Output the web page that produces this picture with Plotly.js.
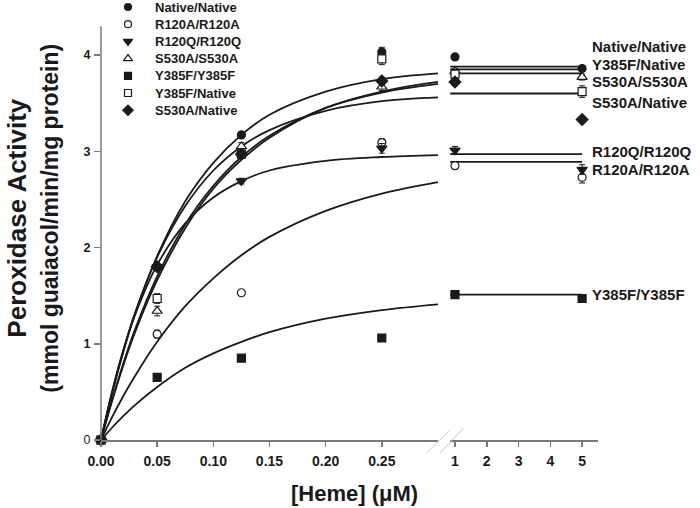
<!DOCTYPE html>
<html><head><meta charset="utf-8">
<script src="https://cdn.plot.ly/plotly-3.0.1.min.js"></script>
<style>body{margin:0;background:#fff}</style>
</head><body>
<div id="chart" style="width:700px;height:508px"></div>
<script>
// ---------------- data ----------------
const hemeLow = [0, 0.05, 0.125, 0.25];
const hemeHigh = [1, 5];
const plateauX = [0.85, 5];
const fitX = [0, 0.01, 0.02, 0.03, 0.05, 0.075, 0.1, 0.125, 0.15, 0.2, 0.25, 0.3];

const seriesNames = ['Native/Native', 'R120A/R120A', 'R120Q/R120Q', 'S530A/S530A', 'Y385F/Y385F', 'Y385F/Native', 'S530A/Native'];

// measured activities (low heme range)
const nativeNativeLow = [0, 1.80, 3.17, 4.03];
const r120aLow        = [0, 1.10, 1.53, 3.09];
const r120qLow        = [0, 1.80, 2.69, 3.03];
const s530aLow        = [0, 1.34, 3.05, 3.67];
const y385fLow        = [0, 0.65, 0.85, 1.06];
const y385fNativeLow  = [0, 1.47, 2.97, 3.96];
const s530aNativeLow  = [0, 1.80, 2.97, 3.73];

// measured activities (1 and 5 uM)
const nativeNativeHigh = [3.98, 3.86];
const r120aHigh        = [2.85, 2.73];
const r120qHigh        = [3.01, 2.81];
const s530aHigh        = [3.83, 3.77];
const y385fHigh        = [1.51, 1.47];
const y385fNativeHigh  = [3.80, 3.62];
const s530aNativeHigh  = [3.72, 3.33];

// error bars
const nativeNativeErrLow = [0, 0.03, 0.03, 0.05], nativeNativeErrHigh = [0.03, 0.03];
const r120aErrLow        = [0, 0.04, 0.02, 0.04], r120aErrHigh        = [0.03, 0.06];
const r120qErrLow        = [0, 0.03, 0.03, 0.05], r120qErrHigh        = [0.04, 0.05];
const s530aErrLow        = [0, 0.05, 0.04, 0.04], s530aErrHigh        = [0.03, 0.03];
const y385fErrLow        = [0, 0.03, 0.03, 0.03], y385fErrHigh        = [0.03, 0.03];
const y385fNativeErrLow  = [0, 0.05, 0.04, 0.06], y385fNativeErrHigh  = [0.05, 0.06];
const s530aNativeErrLow  = [0, 0.03, 0.03, 0.04], s530aNativeErrHigh  = [0.04, 0.03];

// fitted curves
const nativeNativeFit = [0, 0.49, 0.92, 1.30, 1.91, 2.48, 2.88, 3.17, 3.38, 3.62, 3.75, 3.81];
const r120aFit        = [0, 0.24, 0.46, 0.66, 1.02, 1.39, 1.68, 1.92, 2.11, 2.38, 2.56, 2.68];
const r120qFit        = [0, 0.51, 0.94, 1.29, 1.82, 2.25, 2.52, 2.69, 2.80, 2.90, 2.94, 2.96];
const s530aFit        = [0, 0.42, 0.80, 1.14, 1.70, 2.24, 2.64, 2.94, 3.16, 3.45, 3.61, 3.70];
const y385fFit        = [0, 0.13, 0.25, 0.36, 0.55, 0.75, 0.90, 1.02, 1.12, 1.26, 1.35, 1.41];
const y385fNativeFit  = [0, 0.41, 0.78, 1.11, 1.66, 2.20, 2.61, 2.91, 3.14, 3.45, 3.62, 3.72];
const s530aNativeFit  = [0, 0.50, 0.93, 1.31, 1.90, 2.43, 2.80, 3.05, 3.22, 3.42, 3.52, 3.56];

// plateau levels
const plateauLevels = [3.88, 2.89, 2.97, 3.81, 1.51, 3.85, 3.60];

// right-hand labels (order top to bottom) and their y positions
const rightLabels  = ['Native/Native', 'Y385F/Native', 'S530A/S530A', 'S530A/Native', 'R120Q/R120Q', 'R120A/R120A', 'Y385F/Y385F'];
const rightLabelY  = [4.09, 3.90, 3.72, 3.51, 3.00, 2.81, 1.51];

const lowTicks = [0, 0.05, 0.10, 0.15, 0.20, 0.25];
const lowTickText = ['0.00', '0.05', '0.10', '0.15', '0.20', '0.25'];
const highTicks = [1, 2, 3, 4, 5];
const highTickText = ['1', '2', '3', '4', '5'];
const yTicks = [0, 1, 2, 3, 4];
const yTickText = ['0', '<b>1</b>', '<b>2</b>', '<b>3</b>', '<b>4</b>'];

// ---------------- styling ----------------
const FONT = 'Liberation Sans, Arial, Helvetica, sans-serif';
const INK = '#1a1a1a';
const AX = '#7a7a7a';
const symbols = ['circle', 'circle', 'triangle-down', 'triangle-up', 'square', 'square', 'diamond'];
const filled  = [true, false, true, false, true, false, true];
const sizes   = [8, 8, 9, 9, 8, 8, 9];

const lowData  = [nativeNativeLow, r120aLow, r120qLow, s530aLow, y385fLow, y385fNativeLow, s530aNativeLow];
const highData = [nativeNativeHigh, r120aHigh, r120qHigh, s530aHigh, y385fHigh, y385fNativeHigh, s530aNativeHigh];
const lowErr   = [nativeNativeErrLow, r120aErrLow, r120qErrLow, s530aErrLow, y385fErrLow, y385fNativeErrLow, s530aNativeErrLow];
const highErr  = [nativeNativeErrHigh, r120aErrHigh, r120qErrHigh, s530aErrHigh, y385fErrHigh, y385fNativeErrHigh, s530aNativeErrHigh];
const fits     = [nativeNativeFit, r120aFit, r120qFit, s530aFit, y385fFit, y385fNativeFit, s530aNativeFit];

function markerStyle(i, sz) {
  return {symbol: symbols[i], size: sz || sizes[i], color: filled[i] ? INK : '#ffffff',
          line: {color: INK, width: 1.2}};
}

const traces = [];
// fitted curves
fits.forEach((f, i) => traces.push({
  x: fitX, y: f, xaxis: 'x', yaxis: 'y', mode: 'lines', type: 'scatter',
  line: {color: INK, width: 1.8, shape: 'spline', smoothing: 1}, showlegend: false, hoverinfo: 'skip'
}));
// plateau lines
plateauLevels.forEach((v, i) => traces.push({
  x: plateauX, y: [v, v], xaxis: 'x2', yaxis: 'y', mode: 'lines', type: 'scatter',
  line: {color: INK, width: 1.8}, showlegend: false, hoverinfo: 'skip'
}));
// data points
seriesNames.forEach((name, i) => {
  traces.push({
    x: hemeLow, y: lowData[i], xaxis: 'x', yaxis: 'y', mode: 'markers', type: 'scatter', name: name,
    marker: markerStyle(i), cliponaxis: false, showlegend: false,
    error_y: {type: 'data', array: lowErr[i], color: INK, thickness: 1, width: 3}
  });
  traces.push({
    x: hemeHigh, y: highData[i], xaxis: 'x2', yaxis: 'y', mode: 'markers', type: 'scatter', name: name,
    marker: markerStyle(i), cliponaxis: false, showlegend: false,
    error_y: {type: 'data', array: highErr[i], color: INK, thickness: 1, width: 3}
  });
});

// custom legend (overlay axes in pixel units)
const LEG_X = 128, LEG_TX = 153, LEG_Y0 = 7, LEG_DY = 17.2;
const annotations = [];
seriesNames.forEach((name, i) => {
  traces.push({
    x: [LEG_X], y: [LEG_Y0 + i * LEG_DY], xaxis: 'x3', yaxis: 'y3', mode: 'markers', type: 'scatter',
    marker: markerStyle(i, sizes[i] - 1), cliponaxis: false, showlegend: false, hoverinfo: 'skip'
  });
  annotations.push({
    xref: 'x3', yref: 'y3', x: LEG_TX, y: LEG_Y0 + i * LEG_DY, text: name, showarrow: false,
    xanchor: 'left', yanchor: 'middle', font: {family: FONT, size: 13, color: INK, weight: 'bold'}
  });
});

// right-hand labels
rightLabels.forEach((t, i) => annotations.push({
  xref: 'x2', yref: 'y', x: 5, y: rightLabelY[i], text: t, showarrow: false, xanchor: 'left', yanchor: 'middle',
  xshift: 9, borderpad: 0, font: {family: FONT, size: 15, color: INK, weight: 'bold'}
}));

// axis titles
annotations.push({xref: 'paper', yref: 'y', x: 0, y: 2.3, xshift: -84, text: 'Peroxidase Activity',
  textangle: -90, showarrow: false, xanchor: 'center', yanchor: 'middle',
  font: {family: FONT, size: 26, color: INK, weight: 'bold'}});
annotations.push({xref: 'paper', yref: 'y', x: 0, y: 2.3, xshift: -51, text: '(mmol guaiacol/min/mg protein)',
  textangle: -90, showarrow: false, xanchor: 'center', yanchor: 'middle',
  font: {family: FONT, size: 23, color: INK, weight: 'bold'}});
annotations.push({xref: 'paper', yref: 'paper', x: 0.511, y: 0, yshift: -53, text: '[Heme] (μM)',
  showarrow: false, xanchor: 'center', yanchor: 'middle',
  font: {family: FONT, size: 22, color: INK, weight: 'bold'}});

const tickFontX = {family: FONT, size: 14, color: INK, weight: 'bold'};
const layout = {
  width: 700, height: 508,
  margin: {l: 101, r: 102, t: 0, b: 68},
  paper_bgcolor: '#fff', plot_bgcolor: 'rgba(0,0,0,0)',
  showlegend: false,
  xaxis: {domain: [0, 0.678], range: [0, 0.3], tickvals: lowTicks, ticktext: lowTickText,
    ticks: 'outside', ticklen: 5, tickcolor: AX, tickwidth: 1.5, showline: true, linecolor: AX, linewidth: 1.5,
    showgrid: false, zeroline: false, tickfont: tickFontX, ticklabelstandoff: 3, anchor: 'y', fixedrange: true},
  xaxis2: {domain: [0.702, 1], range: [0.84, 5.5], tickvals: highTicks, ticktext: highTickText,
    ticks: 'outside', ticklen: 5, tickcolor: AX, tickwidth: 1.5, showline: true, linecolor: AX, linewidth: 1.5,
    showgrid: false, zeroline: false, tickfont: tickFontX, ticklabelstandoff: 3, anchor: 'y', fixedrange: true},
  yaxis: {domain: [0, 1], range: [0, 440 / 96.25], tickvals: yTicks, ticktext: yTickText,
    ticks: 'outside', ticklen: 6, tickcolor: AX, tickwidth: 1.5, showline: false, showgrid: false, zeroline: false,
    tickfont: {family: FONT, size: 12.5, color: INK}, ticklabelstandoff: 1, fixedrange: true},
  xaxis3: {overlaying: 'x', range: [101, 438], visible: false, fixedrange: true, anchor: 'y3'},
  yaxis3: {overlaying: 'y', range: [440, 0], visible: false, fixedrange: true, anchor: 'x3'},
  shapes: [
    {type: 'line', xref: 'paper', yref: 'y', x0: 0, x1: 0, y0: 0, y1: 4.3, line: {color: AX, width: 1.5}},
    {type: 'line', xref: 'paper', yref: 'paper', x0: 0.6553, y0: -0.0289, x1: 0.7022, y1: 0.0227, line: {color: '#c8c8c8', width: 1}},
    {type: 'line', xref: 'paper', yref: 'paper', x0: 0.6821, y0: -0.0295, x1: 0.7290, y1: 0.0266, line: {color: '#c8c8c8', width: 1}}
  ],
  annotations: annotations
};

Plotly.newPlot('chart', traces, layout, {staticPlot: true, displayModeBar: false});
</script>
</body></html>
